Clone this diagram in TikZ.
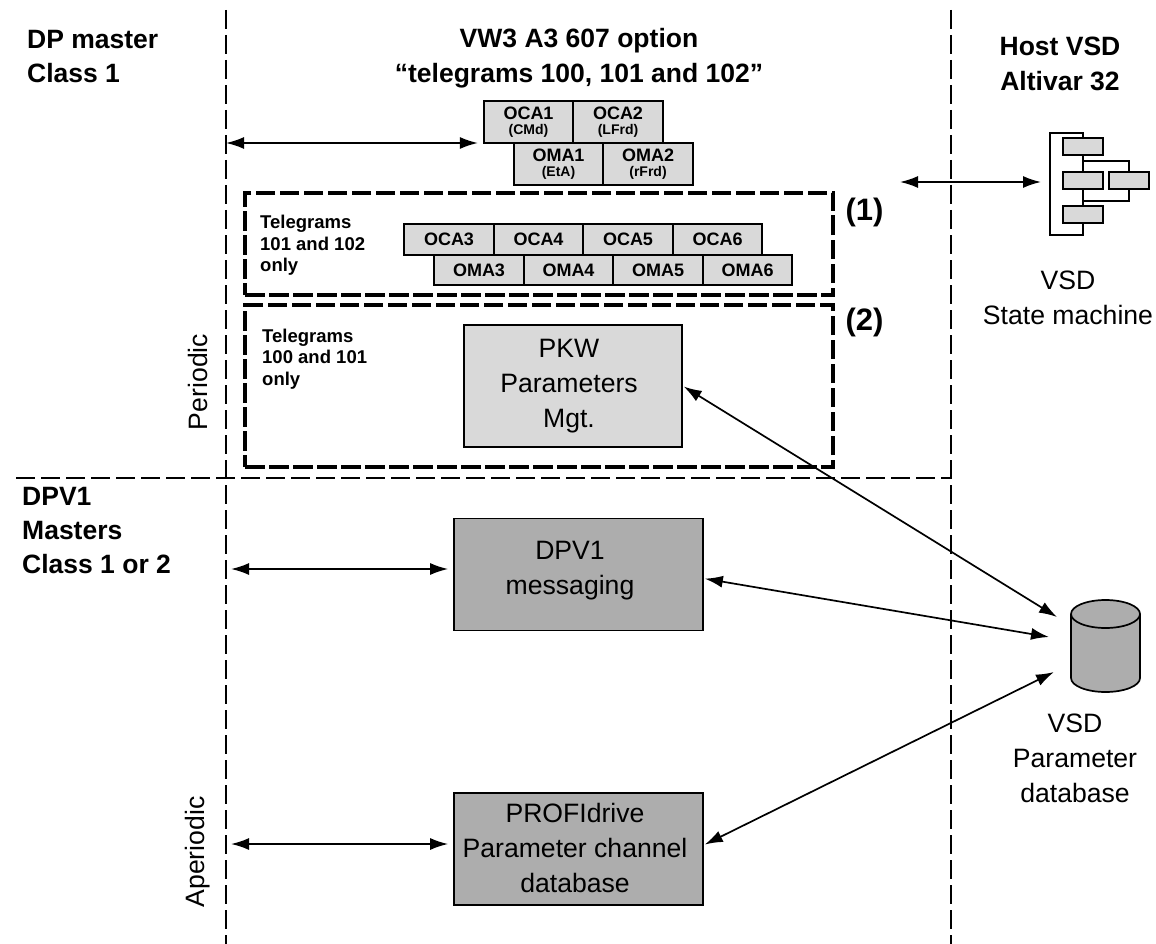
\documentclass[tikz,border=0pt]{standalone}
\usepackage{fontspec}
\setmainfont{Liberation Sans}
\usetikzlibrary{arrows.meta}
\definecolor{lightbox}{gray}{0.85}
\definecolor{darkbox}{gray}{0.68}
\tikzset{
  >={Latex[length=18pt,width=12pt]},
  divider/.style = {line width=1.6pt,dash pattern=on 19pt off 6pt},
  group/.style = {draw,line width=3.3pt,dash pattern=on 19.5pt off 4.5pt,inner sep=0pt},
  link/.style = {<->,line width=1.7pt},
  cell/.style = {draw,line width=1.7pt,fill=lightbox,minimum width=89.5pt,inner sep=0pt,font=\fontsize{18}{18}\bfseries\selectfont,align=center},
  topcell/.style = {cell,minimum height=42pt},
  lowcell/.style = {cell,minimum height=30.5pt},
  block/.style = {draw,line width=1.7pt,inner sep=0pt},
  state/.style = {draw,line width=1.7pt,fill=lightbox,minimum width=40pt,minimum height=17pt,inner sep=0pt},
  head/.style = {font=\fontsize{26.5}{35}\bfseries\selectfont,align=center,inner sep=0pt},
  side/.style = {head,font=\fontsize{26.5}{34}\bfseries\selectfont,align=left,anchor=west},
  small/.style = {font=\fontsize{18.5}{21.5}\bfseries\selectfont,align=left,anchor=west,inner sep=0pt},
  tagged/.style = {font=\fontsize{31}{31}\bfseries\selectfont,inner sep=0pt},
  plain/.style = {font=\fontsize{26.6}{35}\selectfont,align=center,inner sep=0pt}
}
\newcommand{\subtag}[2]{#1\\[-3pt]{\fontsize{14}{14}\selectfont(#2)}}
\begin{document}
\begin{tikzpicture}[x=1pt,y=-1pt]
  \useasboundingbox (0,0) rectangle (1156,944);
  % dividers
  \draw[divider] (226,10) -- (226,944);
  \draw[divider] (951,10) -- (951,944);
  \draw[divider] (16,478) -- (951,478);
  % dashed groups
  \node[group,minimum width=588pt,minimum height=102pt] (group1) at (539,244) {};
  \node[group,minimum width=588pt,minimum height=162pt] (group2) at (539,386) {};
  % telegram cells
  \node[topcell] (oca1) at (528.5,122) {\subtag{OCA1}{CMd}};
  \node[topcell] (oca2) at (618,122)   {\subtag{OCA2}{LFrd}};
  \node[topcell] (oma1) at (558.5,164) {\subtag{OMA1}{EtA}};
  \node[topcell] (oma2) at (648,164)   {\subtag{OMA2}{rFrd}};
  \foreach \n/\x in {3/449,4/538.5,5/628,6/717.5} {
    \node[lowcell] (oca\n) at (\x,239.5) {OCA\n};
  }
  \foreach \n/\x in {3/479,4/568.5,5/658,6/747.5} {
    \node[lowcell] (oma\n) at (\x,270) {OMA\n};
  }
  % blocks
  \node[block,fill=lightbox,minimum width=218pt,minimum height=122pt] (pkw) at (573,386) {};
  \node[block,fill=darkbox,minimum width=249pt,minimum height=112pt] (dpv1) at (578.5,574.5) {};
  \node[block,fill=darkbox,minimum width=249pt,minimum height=112pt] (profi) at (578.5,849) {};
  \node[plain] (pkwtext) at (569,386) {PKW\\Parameters\\Mgt.};
  \node[plain] (dpv1text) at (570,570.5) {DPV1\\messaging};
  \node[plain] (profitext) at (575,848) {PROFIdrive\\Parameter channel\\database};
  % state machine
  \draw[line width=1.4pt] (1083,133) -- (1050,133) -- (1050,235) -- (1083,235) -- cycle;
  \draw[line width=1.4pt] (1083,161) -- (1129,161) -- (1129,201) -- (1083,201);
  \node[state] (st1) at (1083,146.5) {};
  \node[state] (st2) at (1083,180.5) {};
  \node[state] (st3) at (1129,180.5) {};
  \node[state] (st4) at (1083,214.5) {};
  % database
  \draw[line width=1.7pt,fill=darkbox] (1071,614) -- (1071,678)
    .. controls (1071,686) and (1087,692) .. (1105.5,692)
    .. controls (1124,692) and (1140,686) .. (1140,678) -- (1140,614);
  \draw[line width=1.7pt,fill=darkbox] (1105.5,614) ellipse [x radius=34.5,y radius=14];
  % free ends
  \coordinate (leftA) at (226,143);
  \coordinate (leftB) at (231,569);
  \coordinate (leftC) at (231,844);
  \coordinate (smA) at (900,182);
  \coordinate (smB) at (1041,182);
  \coordinate (dbA) at (1057,617);
  \coordinate (dbB) at (1049,637);
  \coordinate (dbC) at (1054,672);
  % connectors
  \draw[link,shorten >=5pt] (leftA) -- (leftA -| oca1.west);
  \draw[link,shorten >=5pt] (leftB) -- (leftB -| dpv1.west);
  \draw[link,shorten >=5pt] (leftC) -- (leftC -| profi.west);
  \draw[link] (smA) -- (smB);
  \draw[link,shorten <=1pt] (pkw.east) -- (dbA);
  \draw[link,shorten <=1pt] ([yshift=-4pt]dpv1.east) -- (dbB);
  \draw[link,shorten <=1pt] ([yshift=4pt]profi.east) -- (dbC);
  % labels
  \node[side] (lblA) at (27,57) {DP master\\Class 1};
  \node[side] (lblB) at (22,531) {DPV1\\Masters\\Class 1 or 2};
  \node[head] (lblC) at (579,58) {VW3 A3 607 option\\“telegrams 100, 101 and 102”};
  \node[head] (lblD) at (1060,63.5) {Host VSD\\Altivar 32};
  \node[small] (lblE) at (260,245.5) {Telegrams\\101 and 102\\only};
  \node[small] (lblF) at (262,359) {Telegrams\\100 and 101\\only};
  \node[tagged] (tag1) at (864.5,212) {(1)};
  \node[tagged] (tag2) at (864.5,322) {(2)};
  \node[plain] (lblG) at (1068,298) {VSD\\State machine};
  \node[plain] (lblH) at (1075,758) {VSD\\Parameter\\database};
  \node[plain,rotate=90] (lblI) at (198,382) {Periodic};
  \node[plain,rotate=90] (lblJ) at (198,852) {Aperiodic};
\end{tikzpicture}
\end{document}
